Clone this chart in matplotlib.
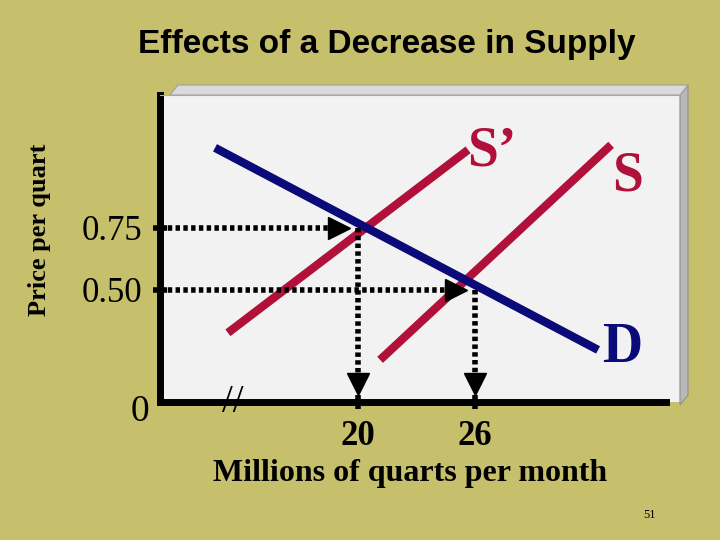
import matplotlib.pyplot as plt
from matplotlib.patches import Polygon

# data (quantity in millions of quarts, price in $)
q_ticks = [20, 26]
p_ticks = [0.50, 0.75]
p_labels = ['0.50', '0.75']
demand = ([12.67, 32.3], [1.073, 0.258])
supply = ([21.13, 32.97], [0.218, 1.085])
supply_new = ([13.33, 25.64], [0.327, 1.065])
eq_old = (26, 0.50)
eq_new = (20, 0.75)

bg = '#C6BF6C'
red = '#B0103A'
navy = '#0A0A78'
serif = 'Liberation Serif'

fig = plt.figure(figsize=(7.2, 5.4), dpi=100, facecolor=bg)

# shadow on the right side of the panel
fig.patches.append(Polygon([[680/720, 1-95/540], [688/720, 1-85/540], [688/720, 1-395/540], [680/720, 1-405/540]],
                           closed=True, transform=fig.transFigure, facecolor='#B8B8B8', edgecolor='#909090', lw=0.8))
fig.patches.append(Polygon([[170/720, 1-95/540], [680/720, 1-95/540], [688/720, 1-85/540], [178/720, 1-85/540]],
                           closed=True, transform=fig.transFigure, facecolor='#DADADA', edgecolor='#A0A0A0', lw=0.8))

ax = fig.add_axes([160/720, 1-402/540, 520/720, 307/540])
ax.set_facecolor('#F2F2F2')
ax.set_xlim(9.85, 36.5)
ax.set_ylim(0.048, 1.286)
for s in ['top', 'right']:
    ax.spines[s].set_color('#B0B0B0')
for s in ['left', 'bottom']:
    ax.spines[s].set_linewidth(5)
ax.spines['bottom'].set_bounds(9.85, 35.8)

ax.set_xticks(q_ticks)
ax.set_xticklabels([str(q) for q in q_ticks], fontsize=25, family=serif, fontweight='bold')
ax.set_yticks(p_ticks)
ax.set_yticklabels(p_labels, fontsize=25, family=serif)
ax.tick_params(axis='both', length=10, width=4, direction='inout', pad=8)

ax.plot(*supply_new, color=red, lw=6, solid_capstyle='butt')
ax.plot(*supply, color=red, lw=6, solid_capstyle='butt')
ax.plot(*demand, color=navy, lw=6, solid_capstyle='butt')

dots = (0, (0.8, 0.6))
for (q, p) in [eq_new, eq_old]:
    ax.plot([9.85, q - 1.0], [p, p], color='black', lw=4, ls=dots)
    ax.plot([q - 1.0], [p], marker='>', color='black', ms=16)
    ax.plot([q, q], [p, 0.12], color='black', lw=4, ls=dots)
    ax.plot([q], [0.12], marker='v', color='black', ms=16)

ax.text(25.6, 1.0, "S’", fontsize=40, family=serif, fontweight='bold', color=red, ha='left', va='baseline')
ax.text(33.0, 0.90, 'S', fontsize=40, family=serif, fontweight='bold', color=red, ha='left', va='baseline')
ax.text(32.5, 0.21, 'D', fontsize=40, family=serif, fontweight='bold', color=navy, ha='left', va='baseline')

fig.text(233/720, 1-402/540, '//', fontsize=28, family=serif, ha='center', va='center')
fig.text(140/720, 1-412/540, '0', fontsize=27, family=serif, ha='center', va='center')
fig.text(387/720, 1-45/540, 'Effects of a Decrease in Supply', fontsize=24, family='Liberation Sans',
         fontweight='bold', ha='center', va='center')
fig.text(40/720, 1-230/540, 'Price per quart', fontsize=19, family=serif, fontweight='bold',
         rotation=90, ha='center', va='center')
fig.text(410/720, 1-473/540, 'Millions of quarts per month', fontsize=23, family=serif, fontweight='bold',
         ha='center', va='center')
fig.text(650/720, 1-515/540, '51', fontsize=9, family=serif, ha='center', va='center')

fig.savefig('out.png', dpi=100, facecolor=bg)
